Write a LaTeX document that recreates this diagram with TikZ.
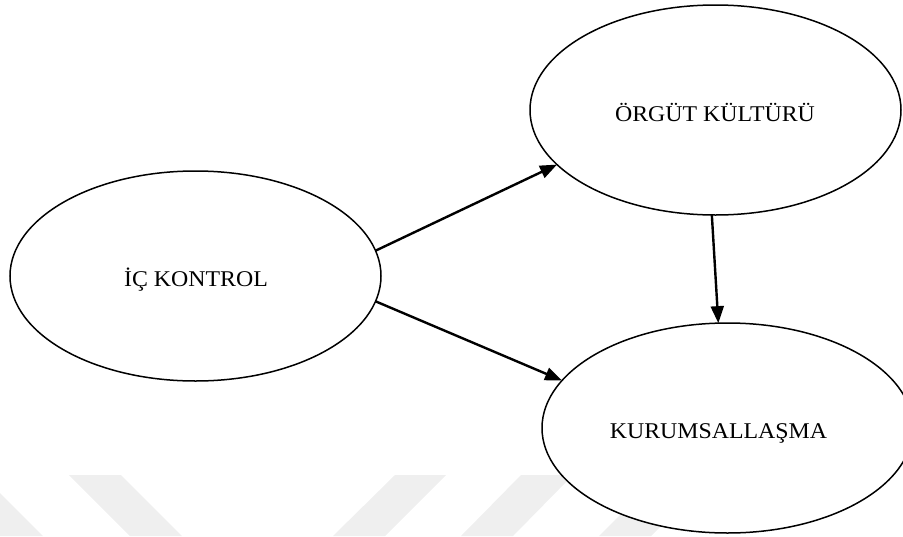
\documentclass[tikz,border=0pt]{standalone}
\usepackage{fontspec}
\setmainfont{Liberation Serif}
\usetikzlibrary{shapes.geometric,arrows.meta}
\definecolor{wmgray}{RGB}{239,239,239}
\tikzset{
  bubble/.style={ellipse, draw=black, line width=1.5pt, fill=white,
    minimum width=371pt, minimum height=210pt, inner sep=0pt, outer sep=0pt},
  lbl/.style={anchor=base, inner sep=0pt, font=\fontsize{22.5}{27}\selectfont},
  link/.style={line width=2.4pt, -{Triangle[length=17pt,width=13pt]}},
  wm/.style={fill=wmgray, draw=none}
}
\begin{document}
\begin{tikzpicture}[x=1pt,y=-1pt]
\useasboundingbox (0,0) rectangle (903,536);
\clip (0,0) rectangle (903,536);
% watermark stripes
\fill[wm] (-70,475) -- (-18,475) -- (43,536) -- (-9,536) -- cycle;
\fill[wm] (69,475) -- (121,475) -- (182,536) -- (130,536) -- cycle;
\fill[wm] (395,475) -- (446,475) -- (385,536) -- (333,536) -- cycle;
\fill[wm] (521,475) -- (573,475) -- (513,536) -- (461,536) -- cycle;
\fill[wm] (660,475) -- (712,475) -- (651,536) -- (599,536) -- cycle;
% ellipses
\node[bubble] (ik) at (195.5,276) {};
\node[bubble] (ok) at (715.5,110) {};
\node[bubble] (ku) at (727.5,428) {};
% labels
\node[lbl] (ikt) at (196,286.7) {\scalebox{1.06}[1]{İÇ KONTROL}};
\node[lbl] (okt) at (715,121.7) {\scalebox{1.06}[1]{ÖRGÜT KÜLTÜRÜ}};
\node[lbl] (kut) at (718.5,438.3) {\scalebox{1.06}[1]{KURUMSALLAŞMA}};
% arrows
\draw[link] (ik.8) -- (ok.199);
\draw[link] (ik.-8) -- (ku.164);
\draw[link] (ok.268) -- (ku.95);
\end{tikzpicture}
\end{document}
